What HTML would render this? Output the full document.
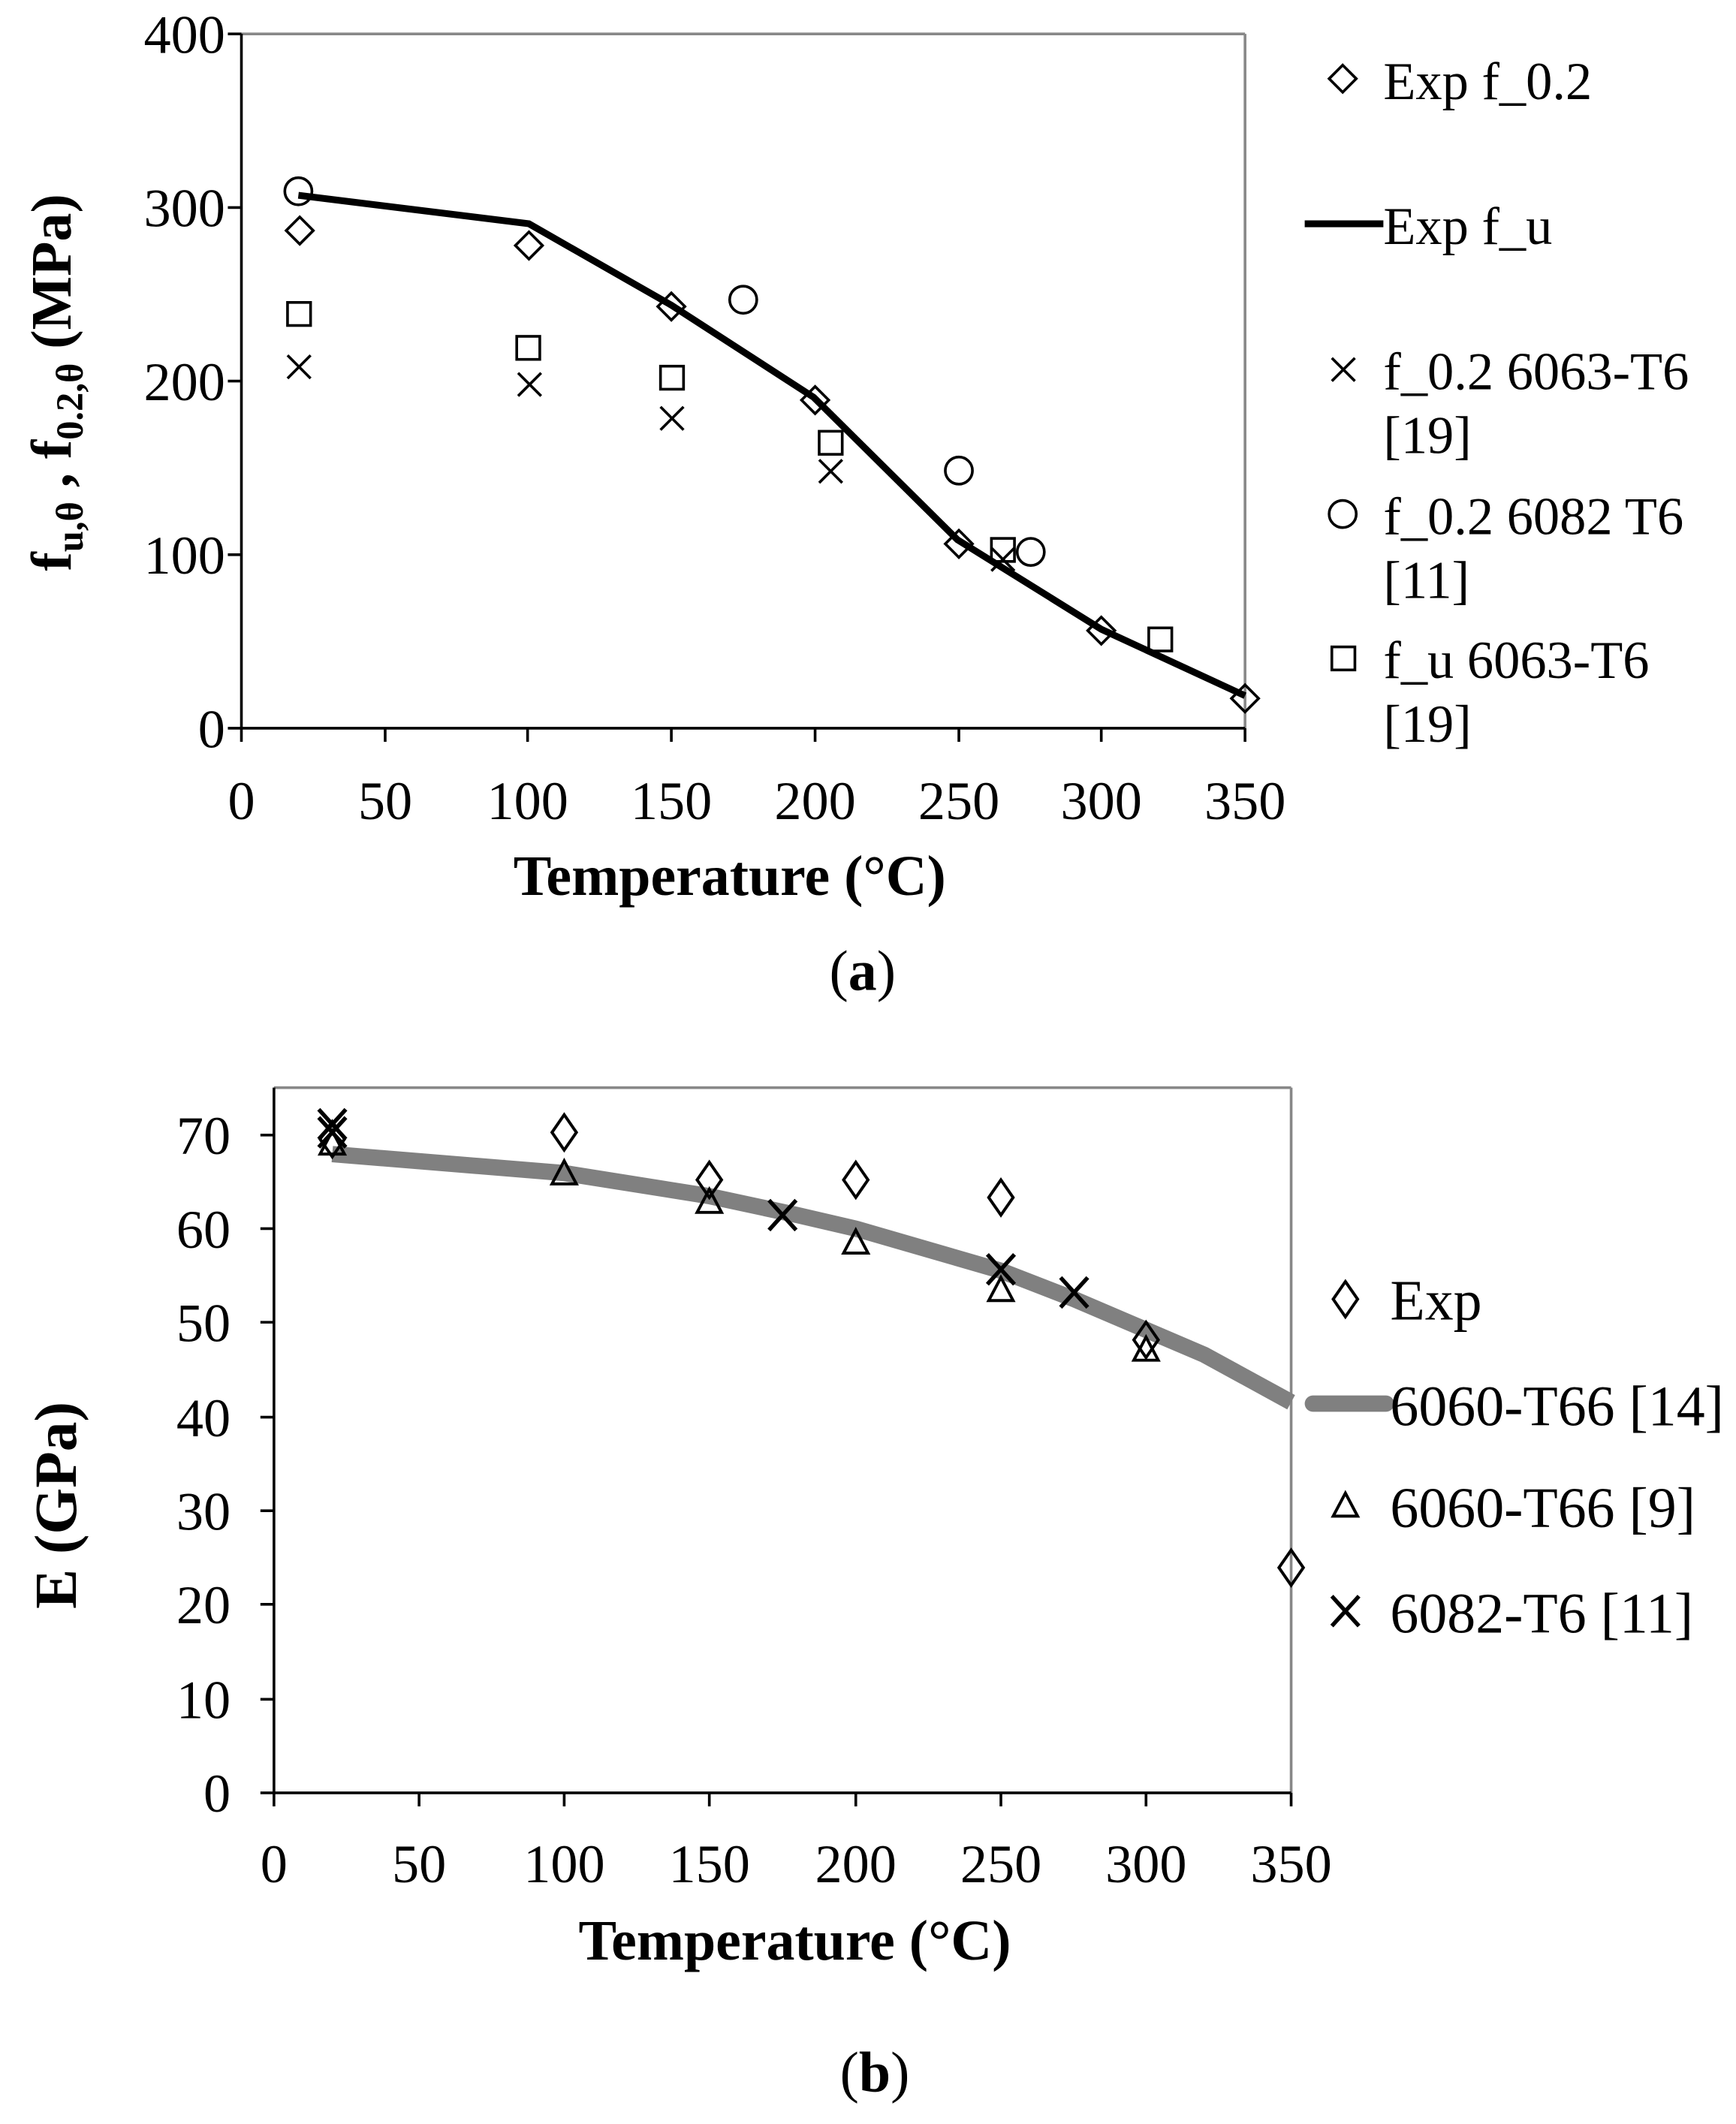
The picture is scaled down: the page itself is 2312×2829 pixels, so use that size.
<!DOCTYPE html>
<html><head><meta charset="utf-8"><style>html,body{margin:0;padding:0;background:#fff}svg{display:block}</style></head>
<body>
<svg width="2312" height="2829" viewBox="0 0 1280 1566.2" xmlns="http://www.w3.org/2000/svg" font-family="Liberation Serif, serif">
<rect width="1280" height="1567" fill="#fff"/>
<!-- Chart a -->
<line x1="178" y1="25" x2="918" y2="25" stroke="#888" stroke-width="2"/>
<line x1="918" y1="25" x2="918" y2="537" stroke="#888" stroke-width="2"/>
<line x1="178" y1="25" x2="178" y2="537" stroke="#000" stroke-width="2"/>
<line x1="168" y1="537" x2="918" y2="537" stroke="#000" stroke-width="2"/>
<g stroke="#000" stroke-width="2">
<line x1="168" y1="25" x2="178" y2="25"/><line x1="168" y1="153" x2="178" y2="153"/><line x1="168" y1="281" x2="178" y2="281"/><line x1="168" y1="409" x2="178" y2="409"/>
<line x1="178" y1="537" x2="178" y2="547"/><line x1="284" y1="537" x2="284" y2="547"/><line x1="389" y1="537" x2="389" y2="547"/><line x1="495" y1="537" x2="495" y2="547"/><line x1="601" y1="537" x2="601" y2="547"/><line x1="707" y1="537" x2="707" y2="547"/><line x1="812" y1="537" x2="812" y2="547"/><line x1="918" y1="537" x2="918" y2="547"/>
</g>
<g font-size="40" text-anchor="end">
<text x="166" y="39">400</text><text x="166" y="167">300</text><text x="166" y="295">200</text><text x="166" y="423">100</text><text x="166" y="551">0</text>
</g>
<g font-size="40" text-anchor="middle">
<text x="178" y="604">0</text><text x="284" y="604">50</text><text x="389" y="604">100</text><text x="495" y="604">150</text><text x="601" y="604">200</text><text x="707" y="604">250</text><text x="812" y="604">300</text><text x="918" y="604">350</text>
</g>
<text x="538" y="660" font-size="42" font-weight="bold" text-anchor="middle">Temperature (°C)</text>
<text x="636" y="730" font-size="42" text-anchor="middle">(<tspan font-weight="bold">a</tspan>)</text>
<text transform="translate(52,282) rotate(-90)" font-size="42" font-weight="bold" text-anchor="middle">f<tspan font-size="28" dy="9">u,θ</tspan><tspan dy="-9"> , f</tspan><tspan font-size="28" dy="9">0.2,θ</tspan><tspan dy="-9"> (MPa)</tspan></text>
<polyline points="220,144 390,165 495,225 600,293 706,398 812,464 918,513" fill="none" stroke="#000" stroke-width="5"/>
<g fill="none" stroke="#000" stroke-width="2">
<path d="M221,160 l10,10 l-10,10 l-10,-10z"/>
<path d="M390,171 l10,10 l-10,10 l-10,-10z"/>
<path d="M495,216 l10,10 l-10,10 l-10,-10z"/>
<path d="M601,285 l10,10 l-10,10 l-10,-10z"/>
<path d="M707,391 l10,10 l-10,10 l-10,-10z"/>
<path d="M812,455 l10,10 l-10,10 l-10,-10z"/>
<path d="M918,505 l10,10 l-10,10 l-10,-10z"/>
<circle cx="220" cy="141" r="10"/><circle cx="548" cy="221" r="10"/><circle cx="707" cy="347" r="10"/><circle cx="760" cy="407" r="10"/>
<rect x="212" y="223" width="17" height="17"/><rect x="381" y="248" width="17" height="17"/><rect x="487" y="270" width="17" height="17"/><rect x="604" y="318" width="17" height="17"/><rect x="731" y="397" width="17" height="17"/><rect x="847" y="463" width="17" height="17"/>
<path d="M212,262 l17,17 M229,262 l-17,17"/>
<path d="M382,275 l17,17 M399,275 l-17,17"/>
<path d="M487,300 l17,17 M504,300 l-17,17"/>
<path d="M604,339 l17,17 M621,339 l-17,17"/>
<path d="M731,404 l17,17 M748,404 l-17,17"/>
<path d="M990,48 l10,10 l-10,10 l-10,-10z"/>
<path d="M982,264 l17,17 M999,264 l-17,17"/>
<circle cx="990" cy="379" r="10"/>
<rect x="982" y="477" width="17" height="17"/>
</g>
<line x1="962" y1="165" x2="1020" y2="165" stroke="#000" stroke-width="5"/>
<g font-size="39">
<text x="1020" y="73">Exp f_0.2</text>
<text x="1020" y="180">Exp f_u</text>
<text x="1020" y="287">f_0.2 6063-T6</text><text x="1020" y="334">[19]</text>
<text x="1020" y="394">f_0.2 6082 T6</text><text x="1020" y="441">[11]</text>
<text x="1020" y="500">f_u 6063-T6</text><text x="1020" y="547">[19]</text>
</g>
<!-- Chart b -->
<line x1="202" y1="802" x2="952" y2="802" stroke="#888" stroke-width="2"/>
<line x1="952" y1="802" x2="952" y2="1322" stroke="#888" stroke-width="2"/>
<line x1="202" y1="802" x2="202" y2="1322" stroke="#000" stroke-width="2"/>
<line x1="192" y1="1322" x2="952" y2="1322" stroke="#000" stroke-width="2"/>
<g stroke="#000" stroke-width="2">
<line x1="192" y1="837" x2="202" y2="837"/><line x1="192" y1="906" x2="202" y2="906"/><line x1="192" y1="975" x2="202" y2="975"/><line x1="192" y1="1045" x2="202" y2="1045"/><line x1="192" y1="1114" x2="202" y2="1114"/><line x1="192" y1="1183" x2="202" y2="1183"/><line x1="192" y1="1253" x2="202" y2="1253"/>
<line x1="202" y1="1322" x2="202" y2="1332"/><line x1="309" y1="1322" x2="309" y2="1332"/><line x1="416" y1="1322" x2="416" y2="1332"/><line x1="523" y1="1322" x2="523" y2="1332"/><line x1="631" y1="1322" x2="631" y2="1332"/><line x1="738" y1="1322" x2="738" y2="1332"/><line x1="845" y1="1322" x2="845" y2="1332"/><line x1="952" y1="1322" x2="952" y2="1332"/>
</g>
<g font-size="40" text-anchor="end">
<text x="170" y="851">70</text><text x="170" y="920">60</text><text x="170" y="989">50</text><text x="170" y="1059">40</text><text x="170" y="1128">30</text><text x="170" y="1197">20</text><text x="170" y="1267">10</text><text x="170" y="1336">0</text>
</g>
<g font-size="40" text-anchor="middle">
<text x="202" y="1388">0</text><text x="309" y="1388">50</text><text x="416" y="1388">100</text><text x="523" y="1388">150</text><text x="631" y="1388">200</text><text x="738" y="1388">250</text><text x="845" y="1388">300</text><text x="952" y="1388">350</text>
</g>
<text x="586" y="1445" font-size="42" font-weight="bold" text-anchor="middle">Temperature (°C)</text>
<text x="645" y="1542" font-size="42" text-anchor="middle">(<tspan font-weight="bold">b</tspan>)</text>
<text transform="translate(56,1110) rotate(-90)" font-size="44" font-weight="bold" text-anchor="middle">E (GPa)</text>
<polyline points="245,851 416,865 523,882 588,896 631,906 738,937 792,958 888,999 952,1034" fill="none" stroke="#808080" stroke-width="12"/>
<line x1="968" y1="1035" x2="1022" y2="1035" stroke="#808080" stroke-width="12" stroke-linecap="round"/>
<g fill="none" stroke="#000" stroke-width="2.2">
<path d="M245,827 l9,13 l-9,13 l-9,-13z"/>
<path d="M416,822 l9,13 l-9,13 l-9,-13z"/>
<path d="M523,857 l9,13 l-9,13 l-9,-13z"/>
<path d="M631,857 l9,13 l-9,13 l-9,-13z"/>
<path d="M738,870 l9,13 l-9,13 l-9,-13z"/>
<path d="M845,975 l9,13 l-9,13 l-9,-13z"/>
<path d="M952,1143 l9,13 l-9,13 l-9,-13z"/>
<path d="M245,834 l9,17 l-18,0z"/>
<path d="M416,856 l9,17 l-18,0z"/>
<path d="M523,877 l9,17 l-18,0z"/>
<path d="M631,907 l9,17 l-18,0z"/>
<path d="M738,942 l9,17 l-18,0z"/>
<path d="M845,986 l9,17 l-18,0z"/>
<g stroke-width="3">
<path d="M235,818 l20,22 M255,818 l-20,22"/>
<path d="M235,824 l20,22 M255,824 l-20,22"/>
<path d="M567,885 l20,22 M587,885 l-20,22"/>
<path d="M728,925 l20,22 M748,925 l-20,22"/>
<path d="M782,942 l20,22 M802,942 l-20,22"/>
<path d="M982,1177 l20,22 M1002,1177 l-20,22"/>
</g>
<path d="M992,945 l9,13 l-9,13 l-9,-13z"/>
<path d="M992,1101 l9,17 l-18,0z"/>
</g>
<g font-size="42">
<text x="1025" y="973">Exp</text>
<text x="1025" y="1051">6060-T66 [14]</text>
<text x="1025" y="1126">6060-T66 [9]</text>
<text x="1025" y="1204">6082-T6 [11]</text>
</g>
</svg>
</body></html>
